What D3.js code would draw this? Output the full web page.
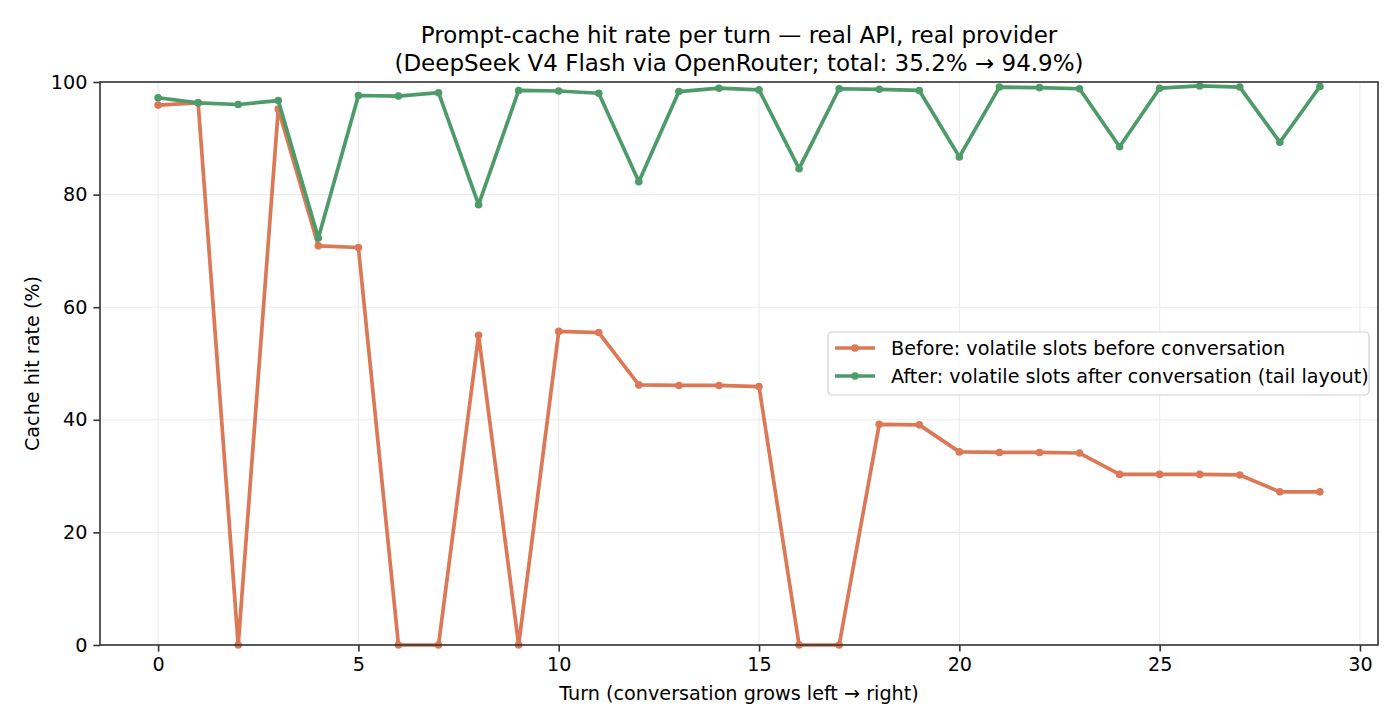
<!DOCTYPE html>
<html>
<head>
<meta charset="utf-8">
<script src="https://cdn.jsdelivr.net/npm/d3@7"></script>
<style>
    body { margin: 0; background: #fff; }
    text { font-family: "DejaVu Sans", sans-serif; fill: #000; }
</style>
</head>
<body>
<div id="chart"></div>
<script>
// Dados
var turns = d3.range(0, 30);
var beforeValues = [95.9, 96.3, 0, 95.2, 70.9, 70.6, 0, 0, 55.0, 0,
    55.7, 55.5, 46.2, 46.1, 46.1, 45.9, 0, 0, 39.2, 39.1,
    34.3, 34.2, 34.2, 34.1, 30.3, 30.3, 30.3, 30.2, 27.2, 27.2];
var afterValues = [97.2, 96.3, 96.0, 96.7, 72.3, 97.6, 97.5, 98.1, 78.2, 98.5,
    98.4, 98.0, 82.3, 98.3, 98.9, 98.6, 84.6, 98.8, 98.7, 98.5,
    86.7, 99.1, 99.0, 98.8, 88.5, 98.9, 99.3, 99.1, 89.3, 99.2];
var xTicks = [0, 5, 10, 15, 20, 25, 30];
var yTicks = [0, 20, 40, 60, 80, 100];
var seriesNames = ["Before: volatile slots before conversation",
    "After: volatile slots after conversation (tail layout)"];
var titleLines = ["Prompt-cache hit rate per turn \u2014 real API, real provider",
    "(DeepSeek V4 Flash via OpenRouter; total: 35.2% \u2192 94.9%)"];

var width = 1400, height = 728;
var margin = { top: 82, right: 22, bottom: 83, left: 100 };
var colors = ["#dc7856", "#4d9b69"];
var fontSize = "19.2px";

var svg = d3.select("#chart").append("svg")
    .attr("width", width)
    .attr("height", height);

var x = d3.scaleLinear()
    .domain([-1.45, 30.45])
    .range([margin.left, width - margin.right]);
var y = d3.scaleLinear()
    .domain([0, 100])
    .range([height - margin.bottom, margin.top]);

// grade
svg.append("g").selectAll("line")
    .data(xTicks)
    .join("line")
    .attr("x1", d => x(d)).attr("x2", d => x(d))
    .attr("y1", margin.top).attr("y2", height - margin.bottom)
    .attr("stroke", "#ebebeb").attr("stroke-width", 1.1);
svg.append("g").selectAll("line")
    .data(yTicks)
    .join("line")
    .attr("x1", margin.left).attr("x2", width - margin.right)
    .attr("y1", d => y(d)).attr("y2", d => y(d))
    .attr("stroke", "#ebebeb").attr("stroke-width", 1.1);

// séries
var series = [beforeValues, afterValues];
var line = d3.line()
    .x((d, i) => x(turns[i]))
    .y(d => y(d));

series.forEach(function (values, k) {
    var g = svg.append("g");
    g.append("path")
        .datum(values)
        .attr("d", line)
        .attr("fill", "none")
        .attr("stroke", colors[k])
        .attr("stroke-width", 3.7)
        .attr("stroke-linejoin", "round")
        .attr("stroke-linecap", "round");
    g.selectAll("circle")
        .data(values)
        .join("circle")
        .attr("cx", (d, i) => x(turns[i]))
        .attr("cy", d => y(d))
        .attr("r", 3.8)
        .attr("fill", colors[k]);
});

// eixos
var xAxis = svg.append("g")
    .attr("transform", `translate(0,${height - margin.bottom})`)
    .call(d3.axisBottom(x).tickValues(xTicks).tickSize(6.6).tickPadding(6));
var yAxis = svg.append("g")
    .attr("transform", `translate(${margin.left},0)`)
    .call(d3.axisLeft(y).tickValues(yTicks).tickSize(6.6).tickPadding(6));
[xAxis, yAxis].forEach(function (a) {
    a.select(".domain").remove();
    a.selectAll(".tick line").attr("stroke", "#333").attr("stroke-width", 1.6);
    a.selectAll(".tick text").attr("font-size", fontSize).attr("fill", "#000")
        .attr("font-family", "DejaVu Sans");
});

// moldura
svg.append("rect")
    .attr("x", margin.left).attr("y", margin.top)
    .attr("width", width - margin.left - margin.right)
    .attr("height", height - margin.top - margin.bottom)
    .attr("fill", "none")
    .attr("stroke", "#333")
    .attr("stroke-width", 1.6);

// títulos
var cx = (margin.left + width - margin.right) / 2;
svg.append("g").selectAll("text")
    .data(titleLines)
    .join("text")
    .attr("x", cx)
    .attr("y", (d, i) => 43 + i * 27.5)
    .attr("text-anchor", "middle")
    .attr("font-size", "23px")
    .text(d => d);

svg.append("text")
    .attr("x", cx)
    .attr("y", 700)
    .attr("text-anchor", "middle")
    .attr("font-size", fontSize)
    .text("Turn (conversation grows left \u2192 right)");

svg.append("text")
    .attr("transform", `translate(39, ${(margin.top + height - margin.bottom) / 2}) rotate(-90)`)
    .attr("text-anchor", "middle")
    .attr("font-size", fontSize)
    .text("Cache hit rate (%)");

// legenda
var legend = svg.append("g").attr("transform", "translate(828, 332)");
legend.append("rect")
    .attr("width", 541).attr("height", 63)
    .attr("rx", 4)
    .attr("fill", "#fff").attr("fill-opacity", 0.8)
    .attr("stroke", "#d0d0d0").attr("stroke-width", 1.2);
seriesNames.forEach(function (name, k) {
    var row = legend.append("g").attr("transform", `translate(0, ${16 + k * 28})`);
    row.append("line")
        .attr("x1", 7).attr("x2", 47)
        .attr("stroke", colors[k]).attr("stroke-width", 3.7);
    row.append("circle")
        .attr("cx", 27).attr("r", 3.8).attr("fill", colors[k]);
    row.append("text")
        .attr("x", 63).attr("y", 7)
        .attr("font-size", fontSize)
        .text(name);
});
</script>
</body>
</html>
